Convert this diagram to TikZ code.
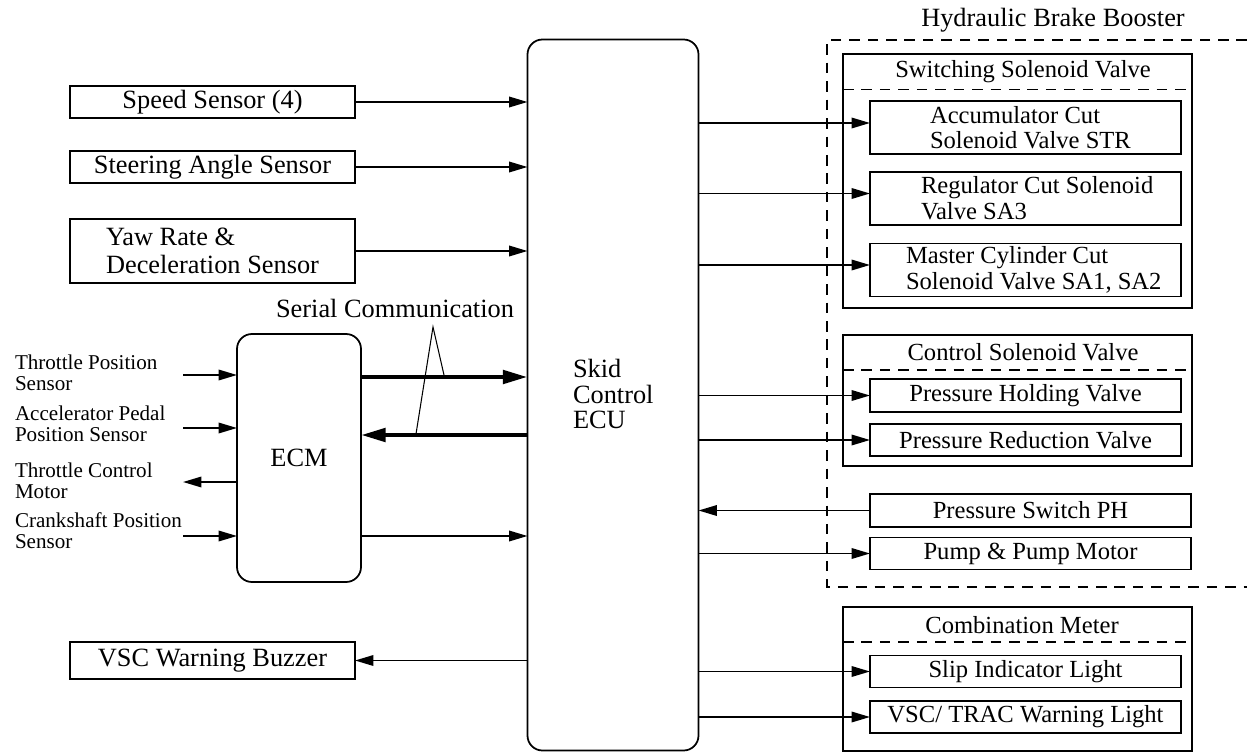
\documentclass[tikz,border=0pt]{standalone}
\usepackage{fontspec}
\setmainfont{Liberation Serif}
\usetikzlibrary{arrows.meta,calc}
\begin{document}
\begin{tikzpicture}[x=0.02cm,y=-0.02cm,line width=1pt,
  every node/.style={inner sep=0pt,outer sep=0pt,font=\fontsize{15}{16}\selectfont},
  box/.style={draw,rectangle},
  sz/.style 2 args={minimum width=#1*0.02cm,minimum height=#2*0.02cm},
  rfont/.style={font=\fontsize{14}{14.6}\selectfont},
  small/.style={font=\fontsize{12}{12}\selectfont},
  arr/.style={-{Triangle[length=10.5pt,width=6pt]}},
  thickarr/.style={line width=2.5pt,-{Triangle[length=14pt,width=7.5pt]}},
  dsh/.style={dash pattern=on 6pt off 4.5pt},
  ptr/.style={line width=0.6pt}]
\useasboundingbox (0,0) rectangle (1247,753);

% left sensors
\node[box,sz={285}{32}] (speed) at (212.5,102) {Speed Sensor (4)};
\node[box,sz={285}{32}] (steer) at (212.5,167) {Steering Angle Sensor};
\node[box,sz={285}{64},align=left] (yaw) at (212.5,251) {Yaw Rate \&\\Deceleration Sensor};
\node[box,sz={285}{37}] (buzz) at (212.5,660.5) {VSC Warning Buzzer};

% ECU
\node[draw,rounded corners=8.5pt,sz={171}{711}] (ecu) at (613,395) {};
\node[anchor=west,align=left,font=\fontsize{15}{14.7}\selectfont] (ecut) at (573,394) {Skid\\Control\\ECU};

% ECM
\node[draw,rounded corners=8.5pt,sz={124}{248}] (ecm) at (299,458) {ECM};

\draw[arr] (speed.east) -- (speed.east -| ecu.west);
\draw[arr] (steer.east) -- (steer.east -| ecu.west);
\draw[arr] (yaw.east) -- (yaw.east -| ecu.west);
\draw[arr] (ecu.west |- buzz.east) -- (buzz.east);

% ECM inputs
\node[small,anchor=west,align=left] (tps) at (15,372.5) {Throttle Position\\Sensor};
\node[small,anchor=west,align=left] (aps) at (15,424) {Accelerator Pedal\\Position Sensor};
\node[small,anchor=west,align=left] (tcm) at (15,481) {Throttle Control\\Motor};
\node[small,anchor=west,align=left] (cps) at (15,531) {Crankshaft Position\\Sensor};
\coordinate (tpsa) at (183,375);
\coordinate (apsa) at (183,428);
\coordinate (tcma) at (183,482);
\coordinate (cpsa) at (183,536);
\draw[arr] (tpsa) -- (tpsa -| ecm.west);
\draw[arr] (apsa) -- (apsa -| ecm.west);
\draw[arr] (tcma -| ecm.west) -- (tcma);
\draw[arr] (cpsa) -- (cpsa -| ecm.west);

% serial communication
\node (serial) at (395,308) {Serial Communication};
\coordinate (s1) at (0,377);
\coordinate (s2) at (0,435);
\draw[thickarr] (ecm.east |- s1) -- (ecu.west |- s1);
\draw[thickarr] (ecu.west |- s2) -- (ecm.east |- s2);
\coordinate (apex) at (433,327);
\coordinate (p1) at (444,375);
\coordinate (p2) at (416,434);
\draw[ptr] (p1) -- (apex) -- (p2);
\coordinate (cr) at (0,536);
\draw[arr] (ecm.east |- cr) -- (ecu.west |- cr);

% Hydraulic brake booster
\coordinate (hb1) at (827,587);
\coordinate (hb2) at (827,40);
\coordinate (hb3) at (1247,40);
\coordinate (hb4) at (1247,587);
\draw[dsh] (hb3) -- (hb2) -- (hb1) -- (hb4);
\node (hbt) at (1053,20) {Hydraulic Brake Booster};

% Switching solenoid valve
\node[box,sz={349}{254}] (ssv) at (1017.5,181) {};
\coordinate (ssvd) at (0,89.5);
\draw[dsh] (ssv.west |- ssvd) -- (ssv.east |- ssvd);
\node[rfont] (ssvt) at (1023,72) {Switching Solenoid Valve};
\node[box,sz={311}{53}] (acc) at (1025.5,127.5) {};
\node[rfont,anchor=west,align=left] (acct) at ([xshift=1.2cm]acc.west) {Accumulator Cut\\Solenoid Valve STR};
\node[box,sz={311}{53}] (reg) at (1025.5,198.3) {};
\node[rfont,anchor=west,align=left] (regt) at ([xshift=1.02cm]reg.west) {Regulator Cut Solenoid\\Valve SA3};
\node[box,sz={311}{53}] (mas) at (1025.5,270) {};
\node[rfont,anchor=west,align=left] (mast) at ([xshift=0.72cm]mas.west) {Master Cylinder Cut\\Solenoid Valve SA1, SA2};
\coordinate (ya) at (0,123);
\coordinate (yr) at (0,193.5);
\coordinate (ym) at (0,265);
\draw[arr] (ecu.east |- ya) -- (acc.west |- ya);
\draw[arr] (ecu.east |- yr) -- (reg.west |- yr);
\draw[arr] (ecu.east |- ym) -- (mas.west |- ym);

% Control solenoid valve
\node[box,sz={349}{131}] (csv) at (1017.5,400.5) {};
\coordinate (csvd) at (0,370);
\draw[dsh] (csv.west |- csvd) -- (csv.east |- csvd);
\node[rfont] (csvt) at (1023,352) {Control Solenoid Valve};
\node[box,rfont,sz={311}{32.4}] (hold) at (1025.5,395.5) {Pressure Holding Valve};
\node[box,rfont,sz={311}{32}] (red) at (1025.5,440) {Pressure Reduction Valve};
\draw[arr] (ecu.east |- hold.west) -- (hold.west);
\draw[arr] (ecu.east |- red.west) -- (red.west);

\node[box,rfont,sz={321}{32.4}] (psw) at (1030.5,510.5) {Pressure Switch PH};
\node[box,rfont,sz={321}{32}] (pump) at (1030.5,553.5) {Pump \& Pump Motor};
\draw[arr] (psw.west) -- (ecu.east |- psw.west);
\draw[arr] (ecu.east |- pump.west) -- (pump.west);

% Combination meter
\node[box,sz={349}{144}] (cmb) at (1017.5,679.3) {};
\coordinate (cmbd) at (0,642.3);
\draw[dsh] (cmb.west |- cmbd) -- (cmb.east |- cmbd);
\node[rfont] (cmbt) at (1022,625) {Combination Meter};
\node[box,rfont,sz={311}{32}] (slip) at (1025.5,671.5) {Slip Indicator Light};
\node[box,rfont,sz={311}{32}] (vsc) at (1025.5,717) {VSC/ TRAC Warning Light};
\draw[arr] (ecu.east |- slip.west) -- (slip.west);
\draw[arr] (ecu.east |- vsc.west) -- (vsc.west);
\end{tikzpicture}
\end{document}
